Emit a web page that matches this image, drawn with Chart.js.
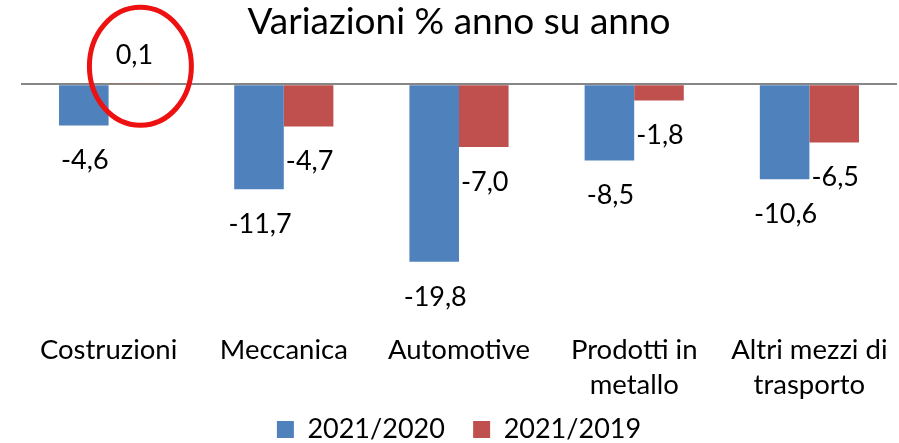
<!DOCTYPE html>
<html>
<head>
<meta charset="utf-8">
<script src="https://cdn.jsdelivr.net/npm/chart.js@4.4.1/dist/chart.umd.min.js"></script>
<style>
  html, body { margin: 0; padding: 0; background: #fff; }
  #wrap { width: 899px; height: 443px; }
</style>
</head>
<body>
<div id="wrap"><canvas id="grafico"></canvas></div>
<script>
// dati
const categorie = [
  "Costruzioni",
  "Meccanica",
  "Automotive",
  ["Prodotti in", "metallo"],
  ["Altri mezzi di", "trasporto"],
];
const serie2020 = [-4.6, -11.7, -19.8, -8.5, -10.6];
const serie2019 = [0.1, -4.7, -7.0, -1.8, -6.5];
const nomiSerie = ["2021/2020", "2021/2019"];
const colori = ["#4F81BD", "#C0504D"];

const FONT = "Lato, 'Open Sans', sans-serif";

// etichette con i valori sopra/sotto le barre
const etichette = {
  id: "etichette",
  afterDatasetsDraw(chart) {
    const ctx = chart.ctx;
    ctx.save();
    ctx.font = "27px " + FONT;
    ctx.fillStyle = "#000";
    ctx.textAlign = "center";
    ctx.textBaseline = "middle";
    chart.data.datasets.forEach((ds, i) => {
      const meta = chart.getDatasetMeta(i);
      meta.data.forEach((bar, j) => {
        const v = ds.data[j];
        const txt = v.toFixed(1).replace(".", ",");
        const y = v < 0 ? bar.y + 35 : bar.y - 28;
        ctx.fillText(txt, bar.x + 1, y);
      });
    });
    ctx.restore();
  },
};

// cerchio rosso attorno al valore 0,1
const cerchio = {
  id: "cerchio",
  afterDraw(chart) {
    const bar = chart.getDatasetMeta(1).data[0];
    const zero = chart.scales.y.getPixelForValue(0);
    const ctx = chart.ctx;
    ctx.save();
    ctx.strokeStyle = "#EE1111";
    ctx.lineWidth = 5;
    ctx.beginPath();
    ctx.ellipse(bar.x + 7, zero - 18, 51, 59, 0, 0, Math.PI * 2);
    ctx.stroke();
    ctx.restore();
  },
};

const etichetteLegenda = (chart) => {
  const items = Chart.defaults.plugins.legend.labels.generateLabels(chart);
  // spazio in più tra le due voci
  items.forEach((it, i) => {
    if (i < items.length - 1) it.text += "\u2003";
  });
  return items;
};

new Chart(document.getElementById("grafico"), {
  type: "bar",
  data: {
    labels: categorie,
    datasets: [
      {
        label: nomiSerie[0],
        data: serie2020,
        backgroundColor: colori[0],
      },
      {
        label: nomiSerie[1],
        data: serie2019,
        backgroundColor: colori[1],
      },
    ],
  },
  options: {
    responsive: true,
    maintainAspectRatio: false,
    animation: false,
    datasets: {
      bar: { barPercentage: 1, categoryPercentage: 0.566 },
    },
    layout: { padding: { left: 21, right: 2, top: 0, bottom: -10 } },
    plugins: {
      title: {
        display: true,
        text: "Variazioni % anno su anno",
        color: "#000",
        font: { family: FONT, size: 37, weight: "normal" },
        padding: { top: 0, bottom: 4 },
      },
      legend: {
        position: "bottom",
        labels: {
          color: "#000",
          font: { family: FONT, size: 27 },
          boxWidth: 17,
          boxHeight: 17,
          padding: 8,
          generateLabels: etichetteLegenda,
        },
      },
      tooltip: { enabled: false },
    },
    scales: {
      x: {
        grid: { display: false },
        border: { display: false },
        ticks: {
          color: "#000",
          font: { family: FONT, size: 27.5, lineHeight: 1.25 },
          maxRotation: 0,
          autoSkip: false,
          padding: 6,
        },
      },
      y: {
        min: -26.2,
        max: 4,
        ticks: { display: false, stepSize: 1 },
        border: { display: false },
        grid: {
          color: (c) => (c.tick && c.tick.value === 0 ? "#868686" : "rgba(0,0,0,0)"),
          lineWidth: 2,
          drawTicks: false,
        },
      },
    },
  },
  plugins: [etichette, cerchio],
});
</script>
</body>
</html>
